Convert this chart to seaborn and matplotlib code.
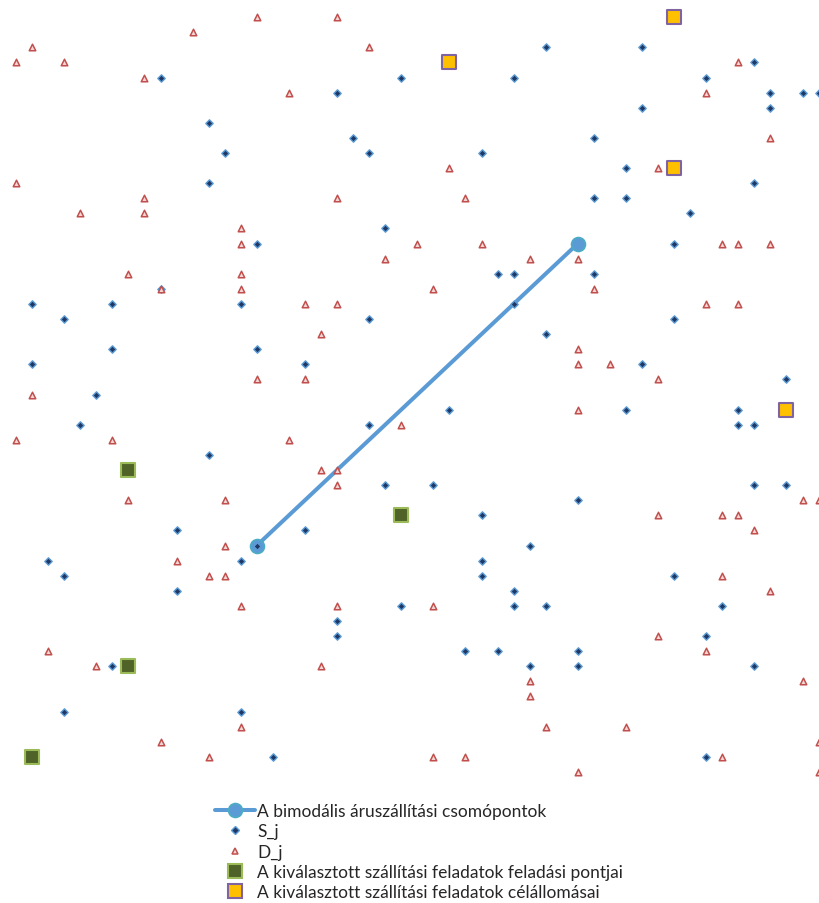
import matplotlib
matplotlib.use("Agg")
import matplotlib.pyplot as plt
from matplotlib.lines import Line2D
import seaborn as sns
import pandas as pd

# === DATA ===
# grid positions (column from left, row from top)
s_x = [10, 13, 14, 13, 16,
       34, 25, 32, 21, 22, 23, 30, 24,
       40, 47, 44, 48, 50, 51, 40, 48, 37, 39, 47, 37, 39, 43, 42,
       10, 2, 7, 15, 4, 7, 16, 2, 6, 5, 13,
       31, 32, 32, 23, 34, 19, 28, 23, 24, 27, 30,
       37, 42, 40, 49, 39, 46, 46, 47, 47, 49, 36,
       11, 15, 3, 4, 11, 7, 4, 15, 17, 16,
       19, 33, 30, 30, 32, 25, 32, 34, 21, 21, 29, 31, 33,
       42, 45, 44, 36, 36, 47, 44]
s_y = [5, 8, 10, 12, 16,
       3, 5, 5, 6, 9, 10, 10, 15,
       3, 4, 5, 6, 6, 6, 7, 7, 9, 11, 12, 13, 13, 14, 16,
       19, 20, 20, 20, 21, 23, 23, 24, 26, 28, 30,
       18, 18, 20, 21, 22, 24, 27, 28, 32, 32, 34,
       18, 21, 24, 25, 27, 27, 28, 28, 32, 32, 33,
       35, 37, 37, 38, 39, 44, 47, 47, 50, 36,
       35, 36, 37, 38, 39, 40, 40, 40, 41, 42, 43, 43, 44,
       38, 40, 42, 43, 44, 44, 50]

d_x = [16, 12, 2, 1, 4, 9, 1, 9, 5, 9, 15, 15,
       21, 23, 18, 28, 21, 29, 26, 30, 24, 33,
       46, 44, 48, 41, 45, 46, 48, 36,
       8, 15, 10, 15, 16, 2, 1, 7, 8, 14,
       27, 19, 21, 20, 19, 25, 18, 20, 21, 21,
       37, 44, 46, 36, 36, 38, 41, 36, 50, 51, 41, 45, 46,
       14, 11, 13, 14, 15, 3, 6, 15, 10, 13,
       21, 27, 20, 33, 33, 34, 27, 29,
       47, 45, 48, 41, 44, 50, 39, 51, 45, 36, 51]
d_y = [1, 2, 3, 4, 4, 5, 12, 13, 14, 14, 15, 16,
       1, 3, 6, 11, 13, 13, 16, 16, 17, 17,
       4, 6, 9, 11, 16, 16, 16, 17,
       18, 18, 19, 19, 25, 26, 29, 29, 33, 33,
       19, 20, 20, 22, 25, 28, 29, 31, 31, 32,
       19, 20, 20, 23, 24, 24, 25, 27, 33, 33, 34, 34, 34,
       36, 37, 38, 38, 40, 43, 44, 48, 49, 50,
       40, 40, 44, 45, 46, 48, 50, 50,
       35, 38, 39, 42, 43, 45, 48, 49, 50, 51, 51]

pickup_x = [8, 25, 8, 2]
pickup_y = [31, 34, 44, 50]

dest_x = [28, 42, 42, 49]
dest_y = [4, 1, 11, 27]

node_x = [16, 36]
node_y = [36, 16]

labels = [
    "A bimodális áruszállítási csomópontok",
    "S_j",
    "D_j",
    "A kiválasztott szállítási feladatok feladási pontjai",
    "A kiválasztott szállítási feladatok célállomásai",
]

# === PLOT ===
sns.set_style("white")
plt.rcParams["font.family"] = ["Lato", "DejaVu Sans"]

fig = plt.figure(figsize=(8.19, 9.04), dpi=100)
ax = fig.add_axes([0, 117 / 904, 1, 787 / 904])

line_kw = dict(color="#5B9BD5", lw=2.9, marker="o", ms=10,
               mfc="#5B9BD5", mec="#4BACC6", mew=1.2)
sns.lineplot(x=node_x, y=node_y, sort=False, ax=ax, estimator=None, **line_kw)

s_kw = dict(marker="D", s=14, color="#1F3864", edgecolor="#5B9BD5", linewidth=1.0)
d_kw = dict(marker="^", s=22, color="#F4D7D6", edgecolor="#C0504D", linewidth=1.1)
p_kw = dict(marker="s", s=110, color="#4F6228", edgecolor="#9BBB59", linewidth=1.5)
t_kw = dict(marker="s", s=110, color="#FFC000", edgecolor="#8064A2", linewidth=1.5)

sns.scatterplot(x=s_x, y=s_y, ax=ax, zorder=3, **s_kw)
sns.scatterplot(x=d_x, y=d_y, ax=ax, zorder=4, **d_kw)
sns.scatterplot(x=pickup_x, y=pickup_y, ax=ax, zorder=5, **p_kw)
sns.scatterplot(x=dest_x, y=dest_y, ax=ax, zorder=5, **t_kw)

ax.set_xlim(0, 819 / 16.05)
ax.set_ylim(51.93, -0.2)
ax.axis("off")

handles = [
    Line2D([], [], **line_kw),
    Line2D([], [], ls="none", marker="D", ms=3.7, mfc="#1F3864", mec="#5B9BD5", mew=1.0),
    Line2D([], [], ls="none", marker="^", ms=4.5, mfc="#F4D7D6", mec="#C0504D", mew=1.1),
    Line2D([], [], ls="none", marker="s", ms=10, mfc="#4F6228", mec="#9BBB59", mew=1.5),
    Line2D([], [], ls="none", marker="s", ms=10, mfc="#FFC000", mec="#8064A2", mew=1.5),
]
fig.legend(handles, labels, loc="upper left", bbox_to_anchor=(215 / 819, 1 - 804 / 904),
           frameon=False, fontsize=12.5, handlelength=2.3, handletextpad=0.12,
           labelspacing=0.25, borderpad=0, borderaxespad=0)

fig.savefig("out.png", dpi=100)
